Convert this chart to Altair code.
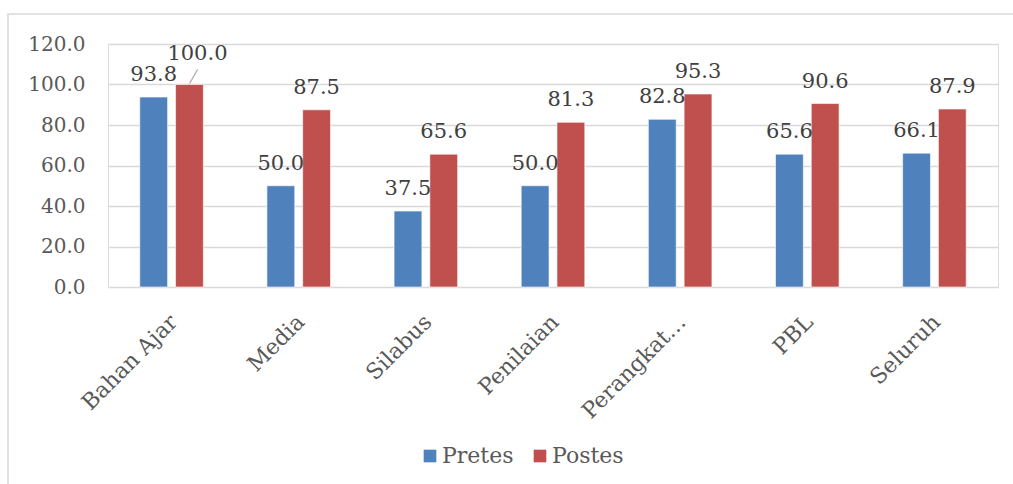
import altair as alt
import pandas as pd

categories = ["Bahan Ajar", "Media", "Silabus", "Penilaian",
              "Perangkat Pembelajaran", "PBL", "Seluruh"]
series = ["Pretes", "Postes"]
pretes = [93.8, 50.0, 37.5, 50.0, 82.8, 65.6, 66.1]
postes = [100.0, 87.5, 65.6, 81.3, 95.3, 90.6, 87.9]
colors = ["#4f81bd", "#c0504d"]
y_ticks = [0, 20, 40, 60, 80, 100, 120]

rows = []
for c, a, b in zip(categories, pretes, postes):
    rows.append({"category": c, "series": "Pretes", "value": a})
    rows.append({"category": c, "series": "Postes", "value": b})
df = pd.DataFrame(rows)

FONT = "DejaVu Serif"

x_enc = alt.X("category:N", sort=categories,
              scale=alt.Scale(paddingInner=0.5, paddingOuter=0.25),
              axis=alt.Axis(title=None, labelAngle=-45, labelFont=FONT,
                            labelFontSize=22, labelColor="#595959",
                            labelLimit=142, labelPadding=24, labelOffset=-5,
                            ticks=False, domain=False, grid=False))
xoff_enc = alt.XOffset("series:N", sort=series,
                       scale=alt.Scale(paddingInner=0.222))
y_enc = alt.Y("value:Q",
              scale=alt.Scale(domain=[0, 120], nice=False),
              axis=alt.Axis(title=None, values=y_ticks, format=".1f",
                            labelFont=FONT, labelFontSize=20,
                            labelColor="#595959", labelPadding=23,
                            ticks=False, domain=False, grid=True,
                            gridColor="#d9d9d9", gridWidth=1.3))

base = alt.Chart(df)

bars = base.mark_bar(stroke="white", strokeWidth=0.6).encode(
    x=x_enc, xOffset=xoff_enc, y=y_enc,
    color=alt.Color("series:N", sort=series,
                    scale=alt.Scale(domain=series, range=colors),
                    legend=alt.Legend(title=None, orient="none",
                                      direction="horizontal",
                                      legendX=311, legendY=401,
                                      symbolType="square", symbolSize=160,
                                      symbolStrokeWidth=0,
                                      labelFont=FONT, labelFontSize=22,
                                      labelColor="#595959", labelOffset=1,
                                      columnPadding=15, padding=0)),
)

is_special = "datum.category == 'Bahan Ajar' && datum.series == 'Postes'"

labels = base.transform_filter("!(" + is_special + ")").mark_text(
    font=FONT, fontSize=21, color="#404040", baseline="alphabetic", dy=-16
).encode(
    x=alt.X("category:N", sort=categories), xOffset=alt.XOffset("series:N", sort=series),
    y="value:Q", text=alt.Text("value:Q", format=".1f"),
)

special = base.transform_filter(is_special).mark_text(
    font=FONT, fontSize=21, color="#404040", baseline="alphabetic", dy=-25, dx=8
).encode(
    x=alt.X("category:N", sort=categories), xOffset=alt.XOffset("series:N", sort=series),
    y="value:Q", text=alt.Text("value:Q", format=".1f"),
)

leader = base.transform_filter(is_special).mark_rule(
    color="#a6a6a6", strokeWidth=1.2, xOffset=18, x2Offset=26,
    yOffset=-1, y2Offset=-15
).encode(
    x=alt.X("category:N", sort=categories), x2="category:N",
    y="value:Q", y2="value:Q",
)

border = alt.Chart(alt.Data(values=[{}])).mark_rect(
    filled=False, stroke="#d9d9d9", strokeWidth=1.5
).encode(
    x=alt.value(-100), x2=alt.value(1013 - 108 + 20),
    y=alt.value(-30), y2=alt.value(484),
)

chart = alt.layer(border, bars, labels, special, leader).properties(
    width=890, height=243,
    autosize=alt.AutoSizeParams(type="none"),
    padding={"left": 108, "top": 44, "right": 15, "bottom": 197},
).configure_view(stroke="transparent", strokeWidth=0).configure(background="white")

chart.save("out.html", embed_options={"renderer": "svg", "actions": False})
